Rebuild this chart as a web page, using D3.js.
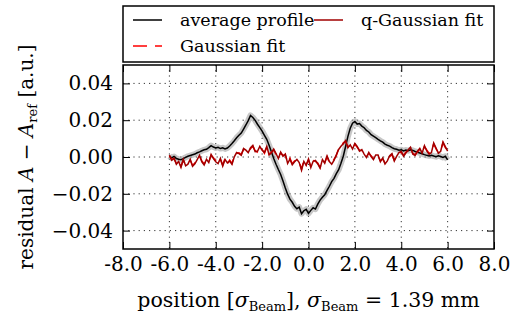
<!DOCTYPE html>
<html>
<head>
<meta charset="utf-8">
<script src="https://cdn.jsdelivr.net/npm/d3@7"></script>
<style>
  body { margin: 0; background: #fff; }
  text { font-family: "DejaVu Serif", serif; fill: #000; }
</style>
</head>
<body>
<div class="canvas"></div>
<script>
// positions in units of sigma_beam, sampled every 0.1
const positions = d3.range(-60, 61).map(i => i / 10)

// residuals in units of 1e-3 [a.u.]
const averageProfile = [
  0.5, -0.5, 0.3, -0.8, -1.2, -1.5, -0.9, -0.2, 0.4, 0.8,
  1.2, 1.6, 2.3, 2.8, 3.4, 3.9, 4.2, 5.1, 6.2, 5.4,
  4.9, 5.3, 4.6, 5.0, 4.4, 4.9, 6.0, 7.3, 8.8, 10.5,
  11.8, 13.0, 15.2, 17.4, 19.8, 22.6, 21.5, 19.9, 17.8, 16.0,
  14.1, 11.8, 9.6, 6.4, 2.8, -0.8, -3.9, -6.8, -9.5, -13.0,
  -16.8, -20.2, -22.9, -24.6, -26.8, -28.1, -27.3, -30.8, -29.2, -28.4,
  -30.6, -29.0, -27.6, -28.3, -25.6, -23.4, -21.9, -20.5, -18.1, -15.9,
  -13.4, -11.6, -9.0, -6.9, -3.4, 0.4, 5.7, 11.2, 15.6, 18.4,
  19.3, 17.9, 18.2, 16.8, 15.9, 14.4, 13.6, 12.1, 11.3, 10.5,
  9.6, 8.8, 8.1, 7.0, 6.4, 5.9, 5.1, 4.5, 4.2, 3.7,
  3.9, 3.3, 3.8, 3.4, 3.9, 3.6, 3.0, 2.6, 2.2, 1.8,
  1.3, 0.9, 0.6, 0.9, 0.5, 0.2, 0.7, 0.3, -0.2, 0.4,
  -1.6
]

const gaussianFit = [
  0.6, -1.3, -1.0, -3.4, -2.0, -5.1, -1.7, -4.3, -3.4, -1.7,
  -4.6, -3.2, -1.9, 0.4, -2.1, -3.8, -1.7, -2.5, 0.9, -0.4,
  -2.1, -3.1, -1.3, -4.4, -0.8, -3.7, -1.7, -3.5, 0.6, 1.9,
  2.3, 1.4, 4.1, 3.2, 2.9, 4.5, 5.8, 3.4, 2.6, 5.3,
  4.1, 2.0, 5.3, 1.6, 2.7, 3.8, 1.4, -0.3, 2.2, 0.9,
  1.1, -3.0, -0.7, -3.7, -2.1, -1.8, -2.5, -6.7, -1.9, -4.1,
  -1.6, -5.2, -1.8, -2.4, -3.3, -5.6, -1.9, -2.9, 0.1, -3.0,
  -3.4, -1.3, 0.7, 4.6, 5.3, 7.7, 8.4, 5.6, 6.1, 4.8,
  6.9, 5.3, 3.7, 3.5, 2.1, 0.2, 2.0, 0.7, -0.9, 0.6,
  0.6, -2.1, -1.0, -3.3, -1.6, 0.2, 1.3, -1.7, 0.8, 1.9,
  2.6, 0.9, 2.7, 3.4, 4.8, 2.0, 1.3, 2.7, 4.2, 2.6,
  5.7, 3.8, 2.0, 2.9, 7.1, 4.4, 2.5, 3.6, 7.7, 5.1,
  3.7
]

const qGaussianFit = [
  1.0, -1.8, -0.6, -3.9, -2.4, -5.6, -1.2, -4.8, -3.9, -1.2,
  -5.1, -3.7, -1.4, 0.9, -2.6, -4.3, -1.2, -3.0, 1.4, -0.9,
  -2.6, -3.6, -0.8, -4.9, -1.3, -3.2, -2.2, -4.0, 0.1, 2.4,
  1.8, 0.9, 4.6, 3.7, 2.4, 5.0, 6.3, 2.9, 3.1, 5.8,
  3.6, 2.5, 5.8, 1.1, 2.2, 4.3, 1.9, -0.8, 2.7, 0.4,
  1.6, -3.5, -1.2, -4.2, -2.6, -1.3, -3.0, -7.2, -2.4, -4.6,
  -1.1, -5.7, -2.3, -1.9, -3.8, -6.1, -1.4, -3.4, 0.6, -2.5,
  -3.9, -1.8, 1.2, 4.1, 5.8, 7.2, 8.9, 5.1, 6.6, 4.3,
  7.4, 5.8, 3.2, 4.0, 1.6, -0.3, 2.5, 0.2, -1.4, 1.1,
  1.1, -2.6, -0.5, -3.8, -2.1, 0.7, 1.8, -2.2, 0.3, 2.4,
  3.1, 0.4, 2.2, 3.9, 5.3, 1.5, 0.8, 3.2, 4.7, 2.1,
  6.2, 3.3, 1.5, 2.4, 7.6, 4.9, 2.0, 3.1, 8.2, 5.6,
  3.2
]

const xTicks = [-8, -6, -4, -2, 0, 2, 4, 6, 8]
const yTicks = [-0.04, -0.02, 0, 0.02, 0.04]

const svg = d3.select('.canvas')
  .append('svg')
    .attr('width', 517)
    .attr('height', 315)

const plotLeft = 123, plotRight = 494, plotTop = 65, plotBottom = 249

const x = d3.scaleLinear().domain([-8, 8]).range([plotLeft, plotRight])
const y = d3.scaleLinear().domain([-0.05, 0.05]).range([plotBottom, plotTop])

// grid
const grid = svg.append('g')
  .attr('stroke', '#000')
  .attr('stroke-width', 0.8)
  .attr('stroke-dasharray', '1.2,4')
grid.selectAll('.gx')
  .data(xTicks.filter(d => Math.abs(d) < 8))
  .enter().append('line')
    .attr('x1', d => x(d)).attr('x2', d => x(d))
    .attr('y1', plotTop).attr('y2', plotBottom)
grid.selectAll('.gy')
  .data(yTicks)
  .enter().append('line')
    .attr('x1', plotLeft).attr('x2', plotRight)
    .attr('y1', d => y(d)).attr('y2', d => y(d))

// lines
const series = (vals) => positions.map((p, i) => [p, vals[i] / 1000])
const line = d3.line().x(d => x(d[0])).y(d => y(d[1]))

svg.append('path')
  .attr('d', line(series(averageProfile)))
  .attr('fill', 'none')
  .attr('stroke', '#999')
  .attr('stroke-opacity', 0.55)
  .attr('stroke-width', 6)
  .attr('stroke-linejoin', 'round')

svg.append('path')
  .attr('d', line(series(averageProfile)))
  .attr('fill', 'none')
  .attr('stroke', '#000')
  .attr('stroke-width', 1.5)

svg.append('path')
  .attr('d', line(series(gaussianFit)))
  .attr('fill', 'none')
  .attr('stroke', '#ff0000')
  .attr('stroke-width', 1.5)
  .attr('stroke-dasharray', '12,7')

svg.append('path')
  .attr('d', line(series(qGaussianFit)))
  .attr('fill', 'none')
  .attr('stroke', '#a00000')
  .attr('stroke-width', 1.5)

// axes, ticks pointing inward
const fmtY = d3.format('.2f')
const xAxis = d3.axisBottom(x).tickValues(xTicks).tickSizeInner(-7).tickSizeOuter(0)
  .tickPadding(8).tickFormat(d => d.toFixed(1))
const yAxis = d3.axisLeft(y).tickValues(yTicks).tickSizeInner(-7).tickSizeOuter(0)
  .tickPadding(10).tickFormat(d => fmtY(d))

svg.append('g').attr('transform', `translate(0, ${plotBottom})`).call(xAxis)
svg.append('g').attr('transform', `translate(${plotLeft}, 0)`).call(yAxis)
svg.append('g').attr('transform', `translate(0, ${plotTop})`)
  .call(d3.axisTop(x).tickValues(xTicks).tickSizeInner(-7).tickSizeOuter(0).tickFormat(''))
svg.append('g').attr('transform', `translate(${plotRight}, 0)`)
  .call(d3.axisRight(y).tickValues(yTicks).tickSizeInner(-7).tickSizeOuter(0).tickFormat(''))

svg.selectAll('.domain').remove()
svg.selectAll('.tick line').attr('stroke', '#000').attr('stroke-width', 1)
svg.selectAll('.tick text')
  .style('font-family', '"DejaVu Serif", serif')
  .style('font-size', '20px')
  .attr('fill', '#000')

svg.append('rect')
  .attr('x', plotLeft).attr('y', plotTop)
  .attr('width', plotRight - plotLeft).attr('height', plotBottom - plotTop)
  .attr('fill', 'none').attr('stroke', '#000').attr('stroke-width', 1.5)

// axis labels
const xl = svg.append('text')
  .attr('x', (plotLeft + plotRight) / 2).attr('y', 307)
  .attr('text-anchor', 'middle')
  .style('font-size', '20.5px')
xl.append('tspan').text('position [')
xl.append('tspan').attr('font-style', 'italic').text('σ')
xl.append('tspan').attr('font-size', '13px').attr('dy', 4).text('Beam')
xl.append('tspan').attr('dy', -4).text('], ')
xl.append('tspan').attr('font-style', 'italic').text('σ')
xl.append('tspan').attr('font-size', '13px').attr('dy', 4).text('Beam')
xl.append('tspan').attr('dy', -4).text(' = 1.39 mm')

const yl = svg.append('text')
  .attr('transform', `translate(33, ${(plotTop + plotBottom) / 2}) rotate(-90)`)
  .attr('text-anchor', 'middle')
  .style('font-size', '20px')
yl.append('tspan').text('residual ')
yl.append('tspan').attr('font-style', 'italic').text('A')
yl.append('tspan').text(' − ')
yl.append('tspan').attr('font-style', 'italic').text('A')
yl.append('tspan').attr('font-size', '13px').attr('dy', 4).text('ref')
yl.append('tspan').attr('dy', -4).text(' [a.u.]')

// legend
const legend = svg.append('g')
legend.append('rect')
  .attr('x', plotLeft).attr('y', 6)
  .attr('width', plotRight - plotLeft).attr('height', 56)
  .attr('fill', '#fff').attr('stroke', '#000').attr('stroke-width', 1.5)

const legendItems = [
  { label: 'average profile', color: '#000', dash: null, lx: 133, ly: 20 },
  { label: 'Gaussian fit', color: '#ff0000', dash: '14,8', lx: 133, ly: 46 },
  { label: 'q-Gaussian fit', color: '#a00000', dash: null, lx: 314, ly: 20 }
]
legendItems.forEach(item => {
  legend.append('line')
    .attr('x1', item.lx).attr('x2', item.lx + 29)
    .attr('y1', item.ly).attr('y2', item.ly)
    .attr('stroke', item.color).attr('stroke-width', 1.5)
    .attr('stroke-dasharray', item.dash)
  legend.append('text')
    .attr('x', item.lx + 47).attr('y', item.ly + 6)
    .style('font-size', '17.5px')
    .text(item.label)
})
</script>
</body>
</html>
